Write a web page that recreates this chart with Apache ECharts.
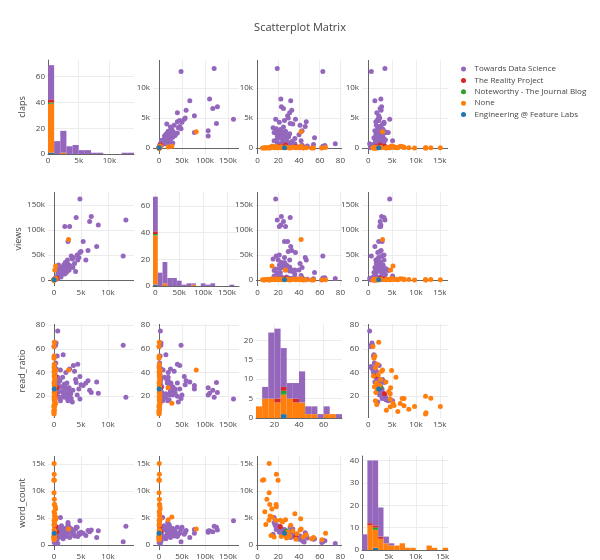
<!DOCTYPE html>
<html><head><meta charset="utf-8">
<script src="https://cdn.jsdelivr.net/npm/echarts@6/dist/echarts.min.js"></script>
<style>html,body{margin:0;padding:0;background:#fff}#c{width:600px;height:560px}</style>
</head><body><div id="c"></div>
<script>
// ---------------- DATA ----------------
const publications = ['Towards Data Science', 'The Reality Project', 'Noteworthy - The Journal Blog', 'None', 'Engineering @ Feature Labs'];
const variables = ['claps', 'views', 'read_ratio', 'word_count'];

// each point: [claps, views, read_ratio, word_count]
const tdsPoints = [
  [13300,120000,19,3500],[12800,48000,63,650],[4800,162000,17.5,4500],[8200,110000,22.5,2650],
  [7900,67000,32,1400],[6900,127000,23,2800],[6600,117000,25,2500],[4100,125000,31.5,3300],
  [2000,107000,27,2600],[2900,107000,21,2400],[2600,77000,26,2900],[5400,77000,29,2200],
  [6300,59000,33,2700],[5900,40000,31,1800],[5000,57000,29.6,2400],[4800,55000,36.6,2000],
  [4400,40000,47,1600],[3600,45000,46,2300],[700,3000,75,300],[400,4500,65,800],
  [300,4000,63,900],[1700,15000,55,1200],[4000,17000,34,3000],
  [150,1200,44,700],[80,900,40,1100],[200,2500,38,1500],[350,3500,33,1900],
  [500,4000,29,2300],[600,3000,26,2600],[250,2000,22,3000],[120,1500,18,3400],
  [450,4500,43,900],[700,12000,36,1600],[800,18000,31,2100],[900,25000,24,2700],
  [300,2800,20,3200],[550,3800,27,2400],[650,4200,35,1800],[100,600,45,600],
  [400,3300,30,2000],[750,6500,23,2800],[850,30000,28,2200],[200,1800,17,3700],
  [950,14000,19,3300],[50,400,62,500],[600,2500,54,1100],[350,1500,48,1300],
  [1100,20000,33,2000],[1300,6000,28,2500],[1500,25000,24,2900],[1200,9000,42,1500],
  [1800,30000,21,3100],[1600,20000,36,1700],[1400,11000,19,3600],[1900,22000,30,2300],
  [1200,8000,16,5100],
  [2100,35000,26,2600],[2300,15000,22,2800],[2500,40000,20,3300],[2700,31000,24,2500],
  [2200,20000,40,1600],[2400,26000,31,2100],[2600,22000,17,3800],[2800,20000,27,2700],
  [2000,12000,19,3000],[2900,25000,43,1400],[2300,35000,23,2200],[2600,19000,16,4200],
  [2100,27000,28,2400],[2700,23000,21,3500],
  [3200,48000,18,2900],[3500,25000,25,2600],[3800,33000,41,1700],[3100,28000,22,3100],
  [3400,42000,15,2000],[4600,45000,26,2200],[4300,50000,21,3300]
];
const realityPoints = [[300,2000,22,3400],[500,3500,27,2500],[200,1500,37,1600]];
const noteworthyPoints = [[100,800,28,2600]];
const nonePoints = [
  [2700,81000,42,3000],[300,28000,14,5200],[150,20000,27,4700],[20,300,4.8,12000],
  [30,500,11.2,15100],[50,800,18.2,13100],[40,600,19.8,12000],[10,200,11.2,9700],
  [60,900,9,8500],[80,1200,11.8,7500],[300,2500,13.8,6700],[120,1500,17.9,7500],
  [250,2000,18,7100],[15,300,8,3800],[100,1000,12,5400],[40,500,11,4600],
  [70,800,17.6,4600],[200,1800,22,4600],[90,1100,24,4300],[60,700,32,3700],
  [350,3000,41.6,4900],[30,400,41,2800],[20,200,52,1200],[10,150,54,1400],
  [80,600,65.6,2200],[5,100,62,1000],[0,50,6,12100],[25,400,7,6200],
  [45,700,13,1800],[55,650,16,1500],[35,500,23,1600],[75,900,26,1900],
  [110,1300,28,1300],[65,800,29,2400],[20,250,31,1700],[140,1600,34,2600],
  [50,600,37,1100],[95,1000,38,2100],[15,200,44,1500],[60,700,47,1900],[130,1400,36,5800]
];
const engineeringPoints = [[50,300,26,2200]];

// histogram bins (value edges) and counts, one list per publication (same order as publications)
const histBinStart = [0, -5000, 5, 0];
const histBinSize = [1000, 10000, 5, 1000];
const clapsHist = [
  [27,10,17,6,7,3,3,1,1,0,0,0,1,1],
  [2,0,0,0,0,0,0,0,0,0,0,0,0,0],
  [1,0,0,0,0,0,0,0,0,0,0,0,0,0],
  [38,0,1,0,0,0,0,0,0,0,0,0,0,0],
  [1,0,0,0,0,0,0,0,0,0,0,0,0,0]
];
const viewsHist = [
  [26,10,16,6,6,4,1,2,1,0,2,1,2,0,0,0,1,0],
  [2,0,0,0,0,0,0,0,0,0,0,0,0,0,0,0,0,0],
  [1,0,0,0,0,0,0,0,0,0,0,0,0,0,0,0,0,0],
  [37,0,2,0,0,0,0,0,1,0,0,0,0,0,0,0,0,0],
  [1,0,0,0,0,0,0,0,0,0,0,0,0,0,0,0,0,0]
];
const readRatioHist = [
  [0,3,17,18,10,4,4,8,2,2,1,2,0,1],
  [0,0,0,1,1,0,1,0,0,0,0,0,0,0],
  [0,0,0,0,1,0,0,0,0,0,0,0,0,0],
  [3,5,5,4,5,5,4,4,1,1,0,1,1,0],
  [0,0,0,0,1,0,0,0,0,0,0,0,0,0]
];
const wordCountHist = [
  [7,28,29,13,3,1,0,0,0,0,0,0,0,0,0,0],
  [0,1,1,1,0,0,0,0,0,0,0,0,0,0,0,0],
  [0,0,1,0,0,0,0,0,0,0,0,0,0,0,0,0],
  [0,11,8,5,3,2,2,3,1,1,0,0,2,1,0,1],
  [0,0,1,0,0,0,0,0,0,0,0,0,0,0,0,0]
];

// ---------------- LAYOUT / STYLE ----------------
const pubColors = ['#9467bd', '#d62728', '#2ca02c', '#ff7f0e', '#1f77b4'];
const pointSets = [tdsPoints, realityPoints, noteworthyPoints, nonePoints, engineeringPoints];
const histSets = [clapsHist, viewsHist, readRatioHist, wordCountHist];
const stackOrder = [4, 3, 2, 1, 0];
const colLeft = [48, 153, 256, 362], rowTop = [60, 192, 324, 456], cellW = 86, cellH = 94;
const xRange = [[-1100, 14800], [-13000, 174000], [-1.5, 81.5], [-1300, 16700]];
const yRange = [[-1000, 14700], [-12000, 176000], [1.5, 81], [-900, 16500]];
const histXRange = [[0, 14000], [-5000, 175000], [5, 75], [0, 16000]];
const histYRange = [[0, 73], [0, 70.5], [0, 24.2], [0, 42]];
const tickStep = [5000, 50000, 20, 5000];
const histYStep = [20, 20, 5, 10];
const FONT = 'Open Sans';
const labelColor = '#444';

function fmt(v) {
  if (Math.abs(v) >= 1000) return (v / 1000) + 'k';
  return String(v);
}
function labelFn(step) {
  return function (v) {
    const q = v / step;
    if (Math.abs(q - Math.round(q)) > 1e-6) return '';
    return fmt(Math.round(q) * step);
  };
}
function makeAxis(gi, range, step, isX, showLine, name) {
  const ax = {
    type: 'value', gridIndex: gi, min: range[0], max: range[1],
    minInterval: step, maxInterval: step, splitNumber: 3,
    axisLine: { show: showLine, onZero: false, lineStyle: { color: '#666', width: 1 } },
    axisTick: { show: false },
    splitLine: { show: true, showMinLine: false, showMaxLine: false, lineStyle: { color: '#ececec', width: 1 } },
    axisLabel: { fontSize: 8, color: labelColor, fontFamily: FONT, margin: 3, formatter: labelFn(step), showMinLabel: true, showMaxLabel: true, hideOverlap: false }
  };
  if (name) {
    ax.name = name; ax.nameLocation = 'middle'; ax.nameGap = 21; ax.nameRotate = 90;
    ax.nameTextStyle = { fontSize: 9, color: labelColor, fontFamily: FONT };
  }
  return ax;
}

const grids = [], xAxes = [], yAxes = [], series = [];
for (let r = 0; r < 4; r++) {
  for (let c = 0; c < 4; c++) {
    const gi = r * 4 + c;
    grids.push({ left: colLeft[c], top: rowTop[r], width: cellW, height: cellH, containLabel: false, outerBoundsMode: 'none' });
    const yName = c === 0 ? variables[r] : null;
    if (r === c) {
      xAxes.push(makeAxis(gi, histXRange[c], tickStep[c], true, true));
      yAxes.push(makeAxis(gi, histYRange[r], histYStep[r], false, histXRange[c][0] === 0, yName));
      const counts = histSets[r];
      const base = counts[0].map(() => 0);
      stackOrder.forEach(p => {
        const data = [];
        counts[p].forEach((n, b) => {
          if (n > 0) {
            const x0 = histBinStart[r] + b * histBinSize[r];
            data.push([x0, x0 + histBinSize[r], base[b], base[b] + n]);
            base[b] += n;
          }
        });
        const color = pubColors[p];
        series.push({
          type: 'custom', name: publications[p], xAxisIndex: gi, yAxisIndex: gi,
          itemStyle: { color: color },
          encode: { x: [0, 1], y: [2, 3] },
          data: data,
          renderItem: function (params, api) {
            const a = api.coord([api.value(0), api.value(2)]);
            const b = api.coord([api.value(1), api.value(3)]);
            return { type: 'rect', shape: { x: a[0], y: b[1], width: b[0] - a[0], height: a[1] - b[1] }, style: { fill: color } };
          }
        });
      });
    } else {
      xAxes.push(makeAxis(gi, xRange[c], tickStep[c], true, false));
      yAxes.push(makeAxis(gi, yRange[r], tickStep[r], false, false, yName));
      pointSets.forEach((pts, p) => {
        const s = {
          type: 'scatter', name: publications[p], xAxisIndex: gi, yAxisIndex: gi,
          symbol: 'circle', symbolSize: 5, z: 3,
          itemStyle: { color: pubColors[p], opacity: 1 },
          data: pts.map(pt => [pt[c], pt[r]])
        };
        if (p === 0) {
          const ml = [];
          if (xRange[c][0] < 0) ml.push({ xAxis: 0 });
          if (yRange[r][0] < 0) ml.push({ yAxis: 0 });
          s.markLine = { silent: true, symbol: ['none', 'none'], z: 1, animation: false,
            label: { show: false }, lineStyle: { color: '#666', width: 1, type: 'solid' },
            emphasis: { disabled: true }, data: ml };
        }
        series.push(s);
      });
    }
  }
}

const option = {
  backgroundColor: '#ffffff',
  animation: false,
  textStyle: { fontFamily: FONT },
  title: { text: 'Scatterplot Matrix', left: 'center', top: 17,
    textStyle: { fontSize: 11, fontWeight: 'normal', color: '#444', fontFamily: FONT } },
  legend: {
    data: publications.map(n => ({ name: n, icon: 'circle' })),
    orient: 'vertical', left: 461, top: 65, padding: 0,
    itemWidth: 12, itemHeight: 5, itemGap: 3.4,
    textStyle: { fontSize: 8, color: '#444', fontFamily: FONT, padding: [0, 0, 0, 0] }
  },
  grid: grids, xAxis: xAxes, yAxis: yAxes, series: series
};
const chart = echarts.init(document.getElementById('c'), null, { renderer: 'canvas' });
chart.setOption(option);
</script></body></html>
